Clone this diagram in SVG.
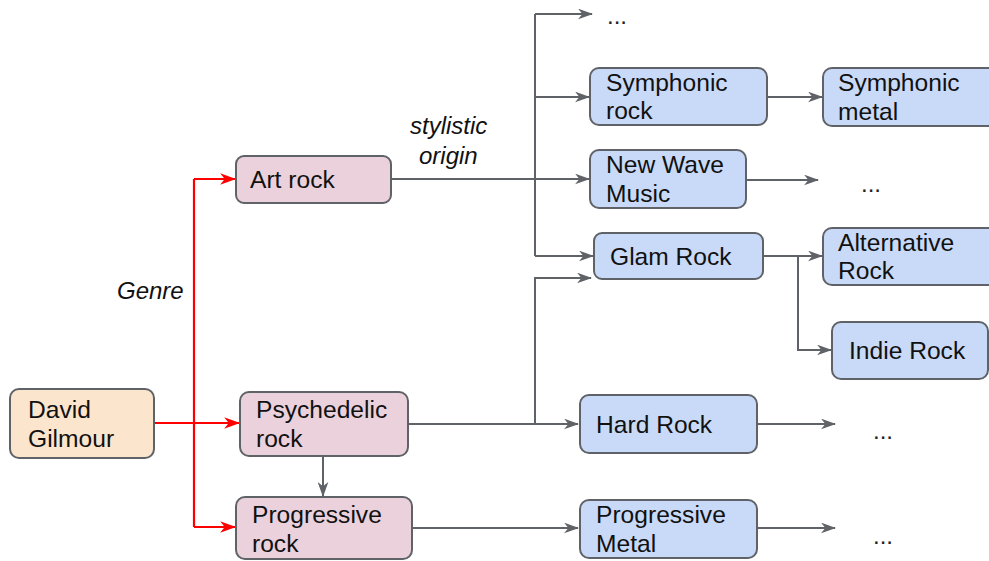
<svg xmlns="http://www.w3.org/2000/svg" width="989" height="561" viewBox="0 0 989 561">
  <style>
    text { font-family: "Liberation Sans", Arial, sans-serif; font-size: 24.6px; fill: #111; }
    .lbl { font-style: italic; font-size: 24px; }
    .dots { fill: #222; font-size: 24px; }
    .node rect { stroke: #5f6368; stroke-width: 2; }
    .artist rect { fill: #fce5cd; }
    .origin rect { fill: #ead1dc; }
    .genre rect { fill: #c9daf8; }
    .red { fill: none; stroke: #ff0000; stroke-width: 2.2; }
    .grey { fill: none; stroke: #5f6368; stroke-width: 2; }
  </style>
  <defs>
    <marker id="ah-red" viewBox="0 0 14 10" refX="13" refY="5" markerWidth="16" markerHeight="11.5" markerUnits="userSpaceOnUse" orient="auto">
      <path d="M0,0 L14,5 L0,10 L4,5 z" fill="#ff0000"/>
    </marker>
    <marker id="ah-grey" viewBox="0 0 14 10" refX="13" refY="5" markerWidth="15" markerHeight="11" markerUnits="userSpaceOnUse" orient="auto">
      <path d="M0,0 L14,5 L0,10 L4,5 z" fill="#5f6368"/>
    </marker>
  </defs>

  <!-- connectors -->
  <g id="connectors">
    <!-- genre links from the artist -->
    <path class="red" d="M154,423 H239" marker-end="url(#ah-red)"/>
    <path class="red" d="M194,179 V527" />
    <path class="red" d="M194,179 H235" marker-end="url(#ah-red)"/>
    <path class="red" d="M194,527 H235" marker-end="url(#ah-red)"/>

    <!-- stylistic origin links -->
    <path class="grey" d="M391,179 H589" marker-end="url(#ah-grey)"/>
    <path class="grey" d="M535,14 V256"/>
    <path class="grey" d="M535,14 H592" marker-end="url(#ah-grey)"/>
    <path class="grey" d="M535,97 H589" marker-end="url(#ah-grey)"/>
    <path class="grey" d="M535,256 H593" marker-end="url(#ah-grey)"/>
    <path class="grey" d="M408,424 H578" marker-end="url(#ah-grey)"/>
    <path class="grey" d="M535,424 V278 H591" marker-end="url(#ah-grey)"/>
    <path class="grey" d="M323,456 V496" marker-end="url(#ah-grey)"/>
    <path class="grey" d="M412,528 H578" marker-end="url(#ah-grey)"/>

    <!-- second level -->
    <path class="grey" d="M767,97 H822" marker-end="url(#ah-grey)"/>
    <path class="grey" d="M746,180 H818" marker-end="url(#ah-grey)"/>
    <path class="grey" d="M763,256 H822" marker-end="url(#ah-grey)"/>
    <path class="grey" d="M798,256 V350 H831" marker-end="url(#ah-grey)"/>
    <path class="grey" d="M757,424 H835" marker-end="url(#ah-grey)"/>
    <path class="grey" d="M757,528 H835" marker-end="url(#ah-grey)"/>
  </g>

  <!-- edge labels -->
  <text class="lbl" x="117" y="299">Genre</text>
  <text class="lbl" x="410" y="134">stylistic</text>
  <text class="lbl" x="419" y="164">origin</text>

  <!-- continuation marks -->
  <text class="dots" x="607" y="24">...</text>
  <text class="dots" x="861" y="192">...</text>
  <text class="dots" x="873" y="439">...</text>
  <text class="dots" x="873" y="544">...</text>

  <!-- nodes -->
  <g id="david-gilmour" class="node artist">
    <rect x="10" y="389" width="144" height="69" rx="9"/>
    <text x="28" y="418">David</text>
    <text x="28" y="447">Gilmour</text>
  </g>
  <g id="art-rock" class="node origin">
    <rect x="236" y="156" width="155" height="47" rx="8"/>
    <text x="250" y="188">Art rock</text>
  </g>
  <g id="psychedelic-rock" class="node origin">
    <rect x="240" y="392" width="168" height="64" rx="9"/>
    <text x="256" y="418">Psychedelic</text>
    <text x="256" y="447">rock</text>
  </g>
  <g id="progressive-rock" class="node origin">
    <rect x="236" y="497" width="176" height="62" rx="9"/>
    <text x="252" y="523">Progressive</text>
    <text x="252" y="552">rock</text>
  </g>
  <g id="symphonic-rock" class="node genre">
    <rect x="590" y="68" width="177" height="57" rx="9"/>
    <text x="606" y="91">Symphonic</text>
    <text x="606" y="119">rock</text>
  </g>
  <g id="new-wave-music" class="node genre">
    <rect x="590" y="150" width="156" height="58" rx="9"/>
    <text x="606" y="173">New Wave</text>
    <text x="606" y="202">Music</text>
  </g>
  <g id="glam-rock" class="node genre">
    <rect x="594" y="233" width="169" height="46" rx="8"/>
    <text x="610" y="265">Glam Rock</text>
  </g>
  <g id="hard-rock" class="node genre">
    <rect x="580" y="395" width="177" height="58" rx="9"/>
    <text x="596" y="433">Hard Rock</text>
  </g>
  <g id="progressive-metal" class="node genre">
    <rect x="580" y="500" width="177" height="58" rx="9"/>
    <text x="596" y="523">Progressive</text>
    <text x="596" y="552">Metal</text>
  </g>
  <g id="symphonic-metal" class="node genre">
    <rect x="823" y="68" width="180" height="58" rx="9"/>
    <text x="838" y="91">Symphonic</text>
    <text x="838" y="120">metal</text>
  </g>
  <g id="alternative-rock" class="node genre">
    <rect x="823" y="228" width="180" height="57" rx="9"/>
    <text x="838" y="251">Alternative</text>
    <text x="838" y="279">Rock</text>
  </g>
  <g id="indie-rock" class="node genre">
    <rect x="832" y="322" width="156" height="57" rx="9"/>
    <text x="849" y="359">Indie Rock</text>
  </g>
</svg>
